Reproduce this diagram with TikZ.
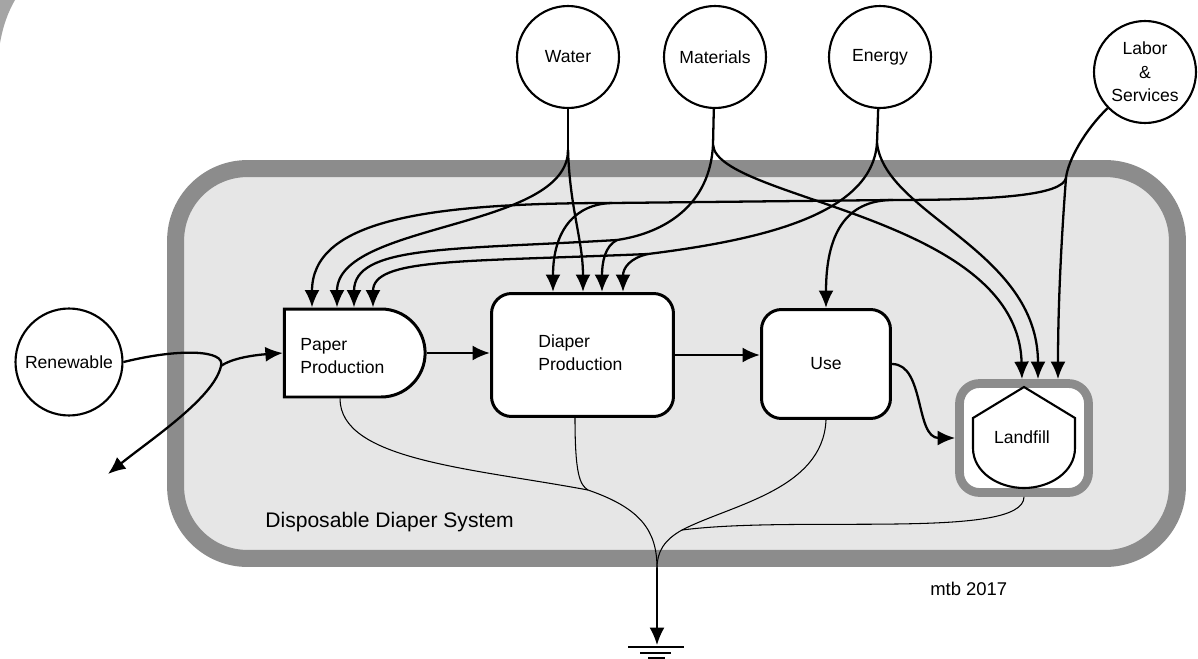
\documentclass[tikz,border=0pt]{standalone}
\usepackage{fontspec}
\setmainfont{Liberation Sans}
\usetikzlibrary{positioning,arrows.meta,shapes.misc}
\tikzset{>={Latex[length=3.5mm,width=3mm]}}
\definecolor{sysgray}{HTML}{8C8C8C}
\definecolor{sysfill}{HTML}{E6E6E6}
\definecolor{cornergray}{HTML}{A5A5A5}
\tikzset{
  src/.style={circle,draw=black,line width=1.2pt,fill=white,minimum size=2.04cm,inner sep=0pt,align=center,font=\fontsize{10}{13.5}\selectfont},
  proc/.style={rectangle,rounded corners=0.4cm,draw=black,line width=1.7pt,fill=white,font=\fontsize{10}{13}\selectfont},
  flow/.style={line width=1.3pt},
  sink/.style={line width=0.6pt},
  lbl/.style={inner sep=0pt,align=left,font=\fontsize{10}{13}\selectfont},
}

\begin{document}
\begin{tikzpicture}[x=0.02cm,y=-0.02cm]
\useasboundingbox (0,0) rectangle (1198,659);
\fill[white] (0,0) rectangle (1198,659);
\fill[cornergray] (0,0) -- (15,0) .. controls (8,12) and (3,26) .. (0,43) -- cycle;

\node[rectangle,rounded corners=1.44cm,draw=sysgray,line width=3.4mm,fill=sysfill,minimum width=20.04cm,minimum height=7.8cm] (10) at (676.5,363.5) {};

\node[src] (1) at (568,57) {Water};
\node[src] (2) at (715,57) {Materials};
\node[src] (3) at (880,57) {Energy};
\node[src] (4) at (1145,72) {Labor\\\&\\Services};
\node[src,minimum size=2.14cm] (5) at (69,362) {Renewable};

\node[rounded rectangle,rounded rectangle west arc=none,draw=black,line width=1.7pt,fill=white,minimum width=3.05cm,minimum height=1.76cm] (6) at (354.75,353) {};
\node[proc,minimum width=3.64cm,minimum height=2.46cm] (7) at (582.5,355) {};
\node[proc,minimum width=2.58cm,minimum height=2.18cm] (8) at (826,364) {Use};
\node[proc,draw=sysgray,line width=5pt,minimum width=2.58cm,minimum height=2.18cm] (9) at (1024,438) {};
\draw[line width=1.2pt,fill=white] (1024,387) -- (973,418) -- (973,448) .. controls (973,472) and (998,488) .. (1024,488) .. controls (1050,488) and (1075,472) .. (1075,448) -- (1075,418) -- cycle;

\node[lbl,anchor=west] (11) at (300,356) {Paper\\Production};
\node[lbl,anchor=west] (12) at (538,353) {Diaper\\Production};
\node[lbl] (15) at (1022,437) {Landfill};
\node[lbl,font=\fontsize{12}{14}\selectfont,anchor=base west] (13) at (265,527) {Disposable Diaper System};
\node[lbl,font=\fontsize{10.5}{13}\selectfont,anchor=base west] (14) at (930,595) {mtb 2017};

\coordinate (w1) at (568,150);
\coordinate (m1) at (713,145);
\coordinate (m2) at (617,240);
\coordinate (e1) at (877,143);
\coordinate (e2) at (648,254);
\coordinate (l1) at (1066,178);
\coordinate (l2) at (893,200);
\coordinate (l3) at (612,203);
\coordinate (r1) at (221,366);
\coordinate (r2) at (108,474);
\coordinate (s1) at (588,490);
\coordinate (s2) at (682,530);
\coordinate (g) at (657,568);
\coordinate (gnd) at (657,645);

\draw[flow] (1) -- (w1);
\draw[flow,->] (w1) .. controls (568,230) and (337,222) .. (337,0 |- 6.north);
\draw[flow,->] (w1) .. controls (570,210) and (583,240) .. (583,0 |- 7.north);

\draw[flow] (2) -- (m1);
\draw[flow] (m1) .. controls (710,205) and (665,233) .. (m2);
\draw[flow,->] (m2) .. controls (605,246) and (602,262) .. (602,0 |- 7.north);
\draw[flow,->] (m2) .. controls (450,250) and (354,245) .. (354,0 |- 6.north);
\draw[flow,->] (m1) .. controls (718,200) and (1018,215) .. (1022,0 |- 9.north);

\draw[flow] (3) -- (e1);
\draw[flow] (e1) .. controls (872,215) and (760,240) .. (e2);
\draw[flow,->] (e2) .. controls (630,258) and (623,268) .. (623,0 |- 7.north);
\draw[flow,->] (e2) .. controls (460,262) and (373,258) .. (373,0 |- 6.north);
\draw[flow,->] (e1) .. controls (885,215) and (1038,250) .. (1038,0 |- 9.north);

\draw[flow] (4) .. controls (1085,130) and (1068,160) .. (l1);
\draw[flow,->] (l1) .. controls (1062,230) and (1058,300) .. (1058,0 |- 9.north);
\draw[flow] (l1) .. controls (1062,195) and (1000,200) .. (l2);
\draw[flow,->] (l2) .. controls (845,200) and (826,235) .. (8.north);
\draw[flow] (l2) -- (l3);
\draw[flow,->] (l3) .. controls (575,204) and (553,230) .. (553,0 |- 7.north);
\draw[flow,->] (l3) .. controls (420,203) and (312,222) .. (312,0 |- 6.north);

\draw[flow] (5.east) .. controls (180,348) and (226,350) .. (r1);
\draw[flow,->] (r1) .. controls (214,398) and (150,440) .. (r2);
\draw[flow,->] (r1) .. controls (232,358) and (255,355) .. (6.west);

\draw[flow,->] (6.east) -- (6.east -| 7.west);
\draw[flow,->] (7.east) -- (7.east -| 8.west);
\draw[flow,->] (8.east) .. controls (925,364) and (915,438) .. (9.west);

\draw[sink] (340,0 |- 6.south) .. controls (340,460) and (470,468) .. (s1);
\draw[sink] (575,0 |- 7.south) .. controls (575,475) and (580,485) .. (s1);
\draw[sink] (s1) .. controls (640,508) and (657,530) .. (g);
\draw[sink] (8.south) .. controls (823,490) and (730,505) .. (s2);
\draw[sink] (9.south) .. controls (1024,540) and (800,515) .. (s2);
\draw[sink] (s2) .. controls (664,540) and (657,552) .. (g);
\draw[line width=1pt,->] (g) -- (gnd);
\draw[line width=1.2pt] (628,647) -- (684,647);
\draw[line width=1.2pt] (640,653) -- (671,653);
\draw[line width=1.2pt] (648,658) -- (665,658);

\end{tikzpicture}
\end{document}
